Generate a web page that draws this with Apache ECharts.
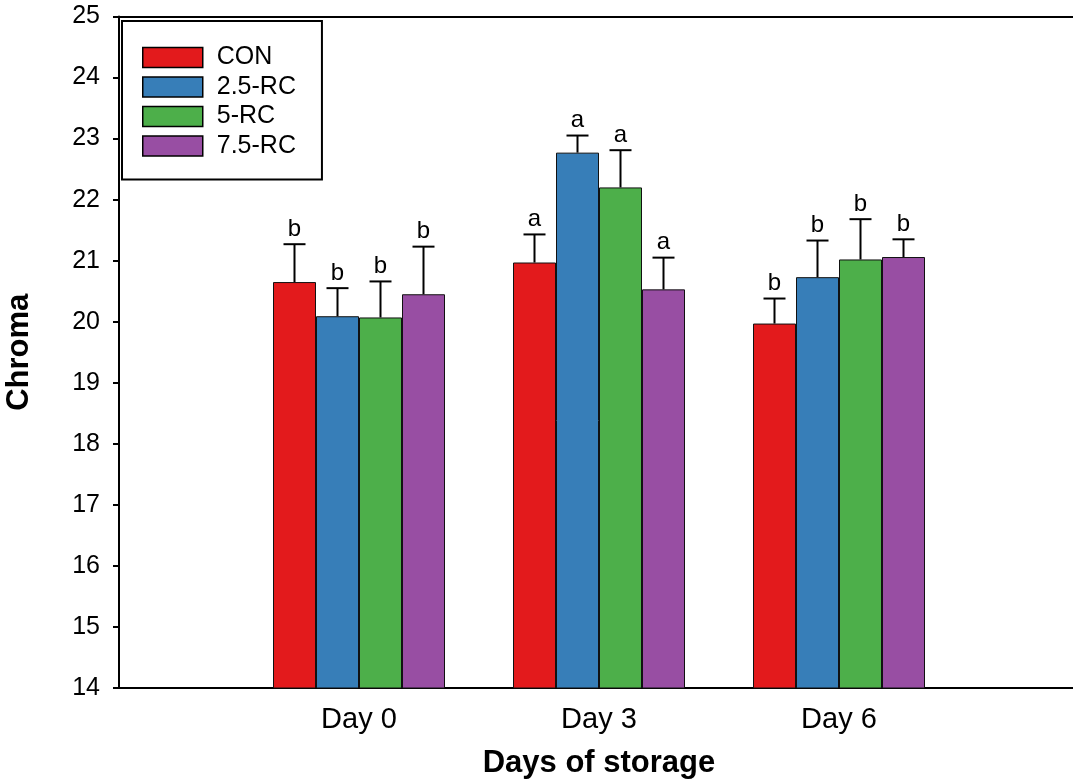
<!DOCTYPE html>
<html>
<head>
<meta charset="utf-8">
<script src="https://cdn.jsdelivr.net/npm/echarts@6/dist/echarts.min.js"></script>
<style>
  html, body { margin: 0; padding: 0; background: #fff; }
  #chart { width: 1073px; height: 783px; }
</style>
</head>
<body>
<div id="chart"></div>
<script>
// Storage days and treatment groups
const categories = ['Day 0', 'Day 3', 'Day 6'];
const groups = ['CON', '2.5-RC', '5-RC', '7.5-RC'];

// Mean chroma per group (one value per storage day)
const conMean  = [20.65, 20.97, 19.97];
const rc25Mean = [20.09, 22.77, 20.73];
const rc5Mean  = [20.07, 22.20, 21.02];
const rc75Mean = [20.45, 20.53, 21.06];

// Standard deviations (upper error bars)
const conErr  = [0.62, 0.46, 0.41];
const rc25Err = [0.46, 0.28, 0.60];
const rc5Err  = [0.59, 0.61, 0.66];
const rc75Err = [0.78, 0.52, 0.29];

// Significance letters
const conSig  = ['b', 'a', 'b'];
const rc25Sig = ['b', 'a', 'b'];
const rc5Sig  = ['b', 'a', 'b'];
const rc75Sig = ['b', 'a', 'b'];

const yTicks = [14, 15, 16, 17, 18, 19, 20, 21, 22, 23, 24, 25];

const means = [conMean, rc25Mean, rc5Mean, rc75Mean];
const errs = [conErr, rc25Err, rc5Err, rc75Err];
const sigs = [conSig, rc25Sig, rc5Sig, rc75Sig];
const colors = ['#e31a1c', '#377eb8', '#4daf4a', '#984ea3'];

const FONT = '"Liberation Sans", Arial, sans-serif';
const BAR_W = 43;

// blank slots on either side of the three days give the wide side margins
const axisCats = [''].concat(categories, ['']);

const barSeries = groups.map((name, i) => ({
  name: name,
  type: 'bar',
  barWidth: BAR_W,
  barGap: '0%',
  data: ['-'].concat(means[i], ['-']),
  itemStyle: { color: colors[i], borderColor: '#111', borderWidth: 1 },
  z: 2
}));

const errSeries = groups.map((name, i) => ({
  type: 'custom',
  silent: true,
  z: 3,
  data: categories.map((c, k) => [k + 1, means[i][k], errs[i][k]]),
  encode: { x: 0, y: 1 },
  renderItem: function (params, api) {
    const cat = api.value(0);
    const m = api.value(1);
    const e = api.value(2);
    const letter = sigs[i][cat - 1];
    const base = api.coord([cat, m]);
    const top = api.coord([cat, m + e]);
    const x = base[0] + (i - 1.5) * BAR_W;
    const half = 11;
    return {
      type: 'group',
      children: [
        { type: 'line', shape: { x1: x, y1: base[1], x2: x, y2: top[1] },
          style: { stroke: '#000', lineWidth: 2 } },
        { type: 'line', shape: { x1: x - half, y1: top[1], x2: x + half, y2: top[1] },
          style: { stroke: '#000', lineWidth: 2 } },
        { type: 'text', x: x, y: top[1] - 3,
          style: { text: letter, fill: '#000', font: '24px ' + FONT,
                   textAlign: 'center', textVerticalAlign: 'bottom' } }
      ]
    };
  }
}));

const chart = echarts.init(document.getElementById('chart'), null, { renderer: 'canvas' });
chart.setOption({
  animation: false,
  backgroundColor: '#fff',
  textStyle: { fontFamily: FONT },
  grid: { left: 119, top: 16.5, width: 960, height: 671.5, containLabel: false, outerBoundsMode: 'none' },
  legend: {
    data: groups,
    orient: 'vertical',
    left: 122,
    top: 21,
    padding: [24, 26, 21, 20],
    icon: 'rect',
    itemWidth: 60,
    itemHeight: 20,
    itemGap: 4.5,
    borderColor: '#000',
    borderWidth: 2,
    itemStyle: { borderColor: '#000', borderWidth: 1.5 },
    textStyle: { fontSize: 25, color: '#000', fontFamily: FONT, padding: [0, 0, 0, 9] }
  },
  xAxis: [{
    type: 'category',
    data: axisCats,
    boundaryGap: false,
    name: 'Days of storage',
    nameLocation: 'middle',
    nameGap: 60,
    nameTextStyle: { fontSize: 31, fontWeight: 'bold', color: '#000', fontFamily: FONT },
    axisLine: { lineStyle: { color: '#000', width: 2 } },
    axisTick: { show: false },
    axisLabel: { fontSize: 29, color: '#000', margin: 17, interval: 0, fontFamily: FONT },
    splitLine: { show: false }
  }, {
    type: 'category',
    data: axisCats,
    boundaryGap: false,
    position: 'top',
    axisLine: { lineStyle: { color: '#000', width: 2 } },
    axisTick: { show: false },
    axisLabel: { show: false },
    splitLine: { show: false }
  }],
  yAxis: {
    type: 'value',
    min: yTicks[0],
    max: yTicks[yTicks.length - 1],
    interval: 1,
    name: 'Chroma',
    nameLocation: 'middle',
    nameGap: 84,
    nameRotate: 90,
    nameTextStyle: { fontSize: 31, fontWeight: 'bold', color: '#000', fontFamily: FONT },
    axisLine: { show: true, lineStyle: { color: '#000', width: 2 } },
    axisTick: { show: true, inside: false, length: 6, lineStyle: { color: '#000', width: 2 } },
    axisLabel: { fontSize: 25, color: '#000', margin: 19, fontFamily: FONT },
    splitLine: { show: false }
  },
  series: barSeries.concat(errSeries)
});
</script>
</body>
</html>
